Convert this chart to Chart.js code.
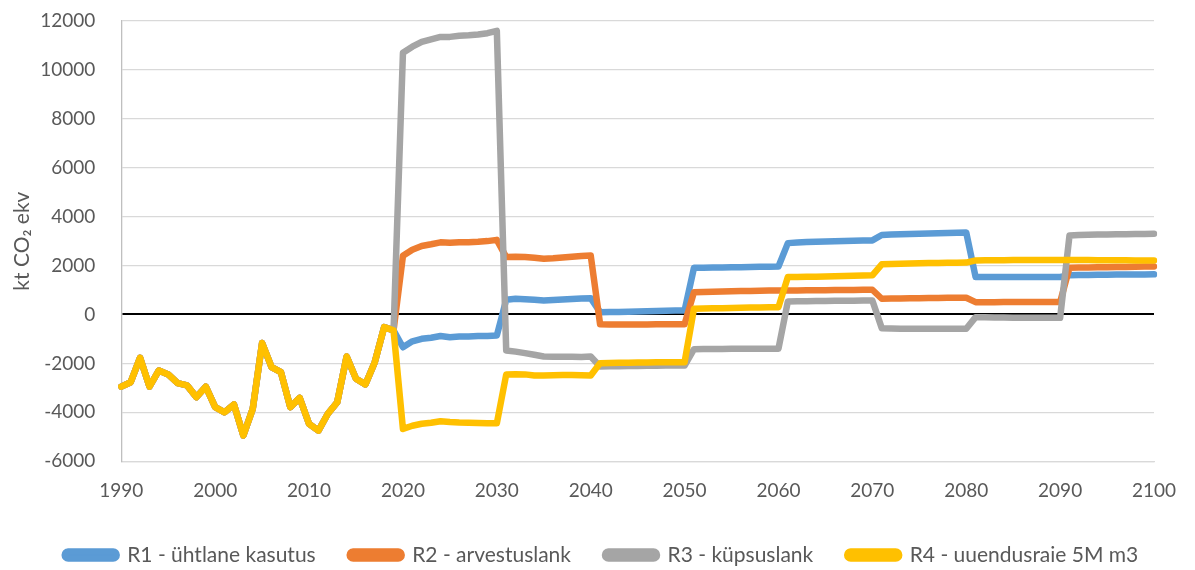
<!DOCTYPE html>
<html>
<head>
<meta charset="utf-8">
<script src="https://cdn.jsdelivr.net/npm/chart.js@4.4.1/dist/chart.umd.min.js"></script>
<style>
    html, body { margin: 0; padding: 0; background: #fff; }
    #wrap { width: 1195px; height: 570px; position: relative; }
</style>
</head>
<body>
<div id="wrap"><canvas id="chart"></canvas></div>
<script>
// Years on the x axis (one point per year)
const years = Array.from({ length: 111 }, (_, i) => 1990 + i);

// Shared history 1990-2019
const history = [-2950, -2770, -1770, -2950, -2290, -2450, -2810, -2900, -3380, -2950,
    -3790, -4000, -3680, -4950, -3860, -1170, -2150, -2360, -3790, -3410,
    -4470, -4750, -4060, -3590, -1720, -2630, -2860, -1950, -520, -650];

// Scenarios 2020-2100
const r1Future = [-1340, -1100, -995, -950, -880, -930, -900, -900, -880, -880, -860,
    600, 640, 620, 600, 573, 590, 610, 630, 650, 667,
    94, 100, 105, 110, 120, 130, 140, 150, 160, 164,
    1910, 1915, 1920, 1925, 1930, 1935, 1940, 1950, 1955, 1964,
    2917, 2940, 2960, 2975, 2985, 2995, 3005, 3010, 3020, 3028,
    3250, 3270, 3285, 3295, 3305, 3315, 3325, 3335, 3345, 3350,
    1530, 1530, 1530, 1530, 1530, 1530, 1530, 1530, 1530, 1530,
    1600, 1610, 1615, 1620, 1625, 1630, 1632, 1635, 1638, 1640];

const r2Future = [2400, 2650, 2800, 2870, 2950, 2930, 2950, 2950, 2970, 3000, 3050,
    2345, 2360, 2350, 2320, 2280, 2300, 2330, 2360, 2390, 2414,
    -400, -410, -410, -410, -410, -410, -405, -400, -400, -400,
    913, 920, 930, 940, 950, 955, 960, 965, 975, 982,
    982, 985, 990, 992, 995, 998, 1000, 1003, 1006, 1010,
    642, 650, 655, 660, 665, 670, 675, 680, 683, 683,
    503, 503, 503, 505, 505, 505, 507, 507, 508, 508,
    1910, 1920, 1925, 1930, 1935, 1940, 1945, 1950, 1958, 1964];

const r3Future = [10700, 10950, 11150, 11250, 11350, 11350, 11400, 11420, 11450, 11500, 11600,
    -1470, -1520, -1580, -1650, -1720, -1730, -1730, -1730, -1740, -1720,
    -2128, -2120, -2115, -2110, -2105, -2100, -2095, -2090, -2087, -2087,
    -1420, -1415, -1410, -1410, -1405, -1405, -1400, -1400, -1400, -1400,
    532, 540, 545, 550, 555, 558, 562, 565, 570, 573,
    -560, -570, -580, -585, -585, -585, -585, -585, -585, -585,
    -110, -115, -120, -125, -130, -130, -135, -135, -135, -135,
    3232, 3245, 3255, 3265, 3272, 3280, 3285, 3290, 3295, 3300];

const r4Future = [-4680, -4550, -4470, -4430, -4365, -4400, -4420, -4430, -4440, -4450, -4450,
    -2455, -2440, -2450, -2495, -2495, -2490, -2480, -2480, -2490, -2495,
    -1990, -1980, -1975, -1970, -1965, -1960, -1955, -1950, -1950, -1950,
    233, 240, 250, 255, 260, 270, 280, 285, 290, 300,
    1530, 1535, 1540, 1545, 1550, 1560, 1570, 1580, 1590, 1600,
    2050, 2060, 2070, 2080, 2090, 2100, 2105, 2110, 2115, 2120,
    2210, 2215, 2220, 2220, 2225, 2225, 2230, 2230, 2230, 2230,
    2230, 2225, 2225, 2220, 2220, 2215, 2215, 2210, 2210, 2210];

const seriesNames = ['R1 - ühtlane kasutus', 'R2 - arvestuslank', 'R3 - küpsuslank', 'R4 - uuendusraie 5M m3'];
const seriesColors = ['#5B9BD5', '#ED7D31', '#A5A5A5', '#FFC000'];
const yTicks = { min: -6000, max: 12000, step: 2000 };

const FONT = 'Lato, "Open Sans", sans-serif';
const TEXT = '#595959';

const futures = [r1Future, r2Future, r3Future, r4Future];

const datasets = futures.map((f, i) => ({
    label: seriesNames[i],
    data: history.concat(f),
    borderColor: seriesColors[i],
    backgroundColor: seriesColors[i],
    borderWidth: 6.5,
    pointRadius: 0,
    tension: 0,
    borderJoinStyle: 'round',
    borderCapStyle: 'round',
    order: 3 - i // last series on top, like the original
}));

new Chart(document.getElementById('chart'), {
    type: 'line',
    data: { labels: years, datasets },
    options: {
        responsive: true,
        maintainAspectRatio: false,
        animation: false,
        layout: { padding: { left: 8, right: 0, top: 21, bottom: -5.5 } },
        plugins: {
            tooltip: { enabled: false },
            legend: {
                position: 'bottom',
                labels: {
                    sort: (a, b) => a.datasetIndex - b.datasetIndex,
                    boxWidth: 52,
                    boxHeight: 7,
                    useBorderRadius: true,
                    borderRadius: 3.5,
                    color: TEXT,
                    padding: 34,
                    font: { family: FONT, size: 21 }
                }
            }
        },
        scales: {
            x: {
                grid: { display: false, tickLength: 10.5 },
                border: { display: true, color: '#d9d9d9', width: 1.3 },
                ticks: {
                    autoSkip: false,
                    maxRotation: 0,
                    padding: 8,
                    color: TEXT,
                    font: { family: FONT, size: 19 },
                    callback: function (value) {
                        const y = this.getLabelForValue(value);
                        return y % 10 === 0 ? String(y) : null;
                    }
                },
                // keep the plot's right edge where the original has it
                afterFit: scale => { scale.paddingRight = 41; }
            },
            y: {
                min: yTicks.min,
                max: yTicks.max,
                border: { display: true, color: '#bfbfbf', width: 1.3 },
                grid: {
                    drawTicks: true,
                    tickLength: 23,
                    tickColor: 'rgba(0,0,0,0)',
                    color: ctx => ctx.tick && ctx.tick.value === 0 ? '#000000' : '#d9d9d9',
                    lineWidth: ctx => ctx.tick && ctx.tick.value === 0 ? 2 : 1.3
                },
                ticks: {
                    stepSize: yTicks.step,
                    padding: 3,
                    color: TEXT,
                    font: { family: FONT, size: 19 },
                    callback: v => String(v)
                },
                title: {
                    display: true,
                    text: 'kt CO₂ ekv',
                    color: TEXT,
                    font: { family: FONT, size: 21 },
                    padding: { top: 2, bottom: 2 }
                }
            }
        }
    }
});
</script>
</body>
</html>
